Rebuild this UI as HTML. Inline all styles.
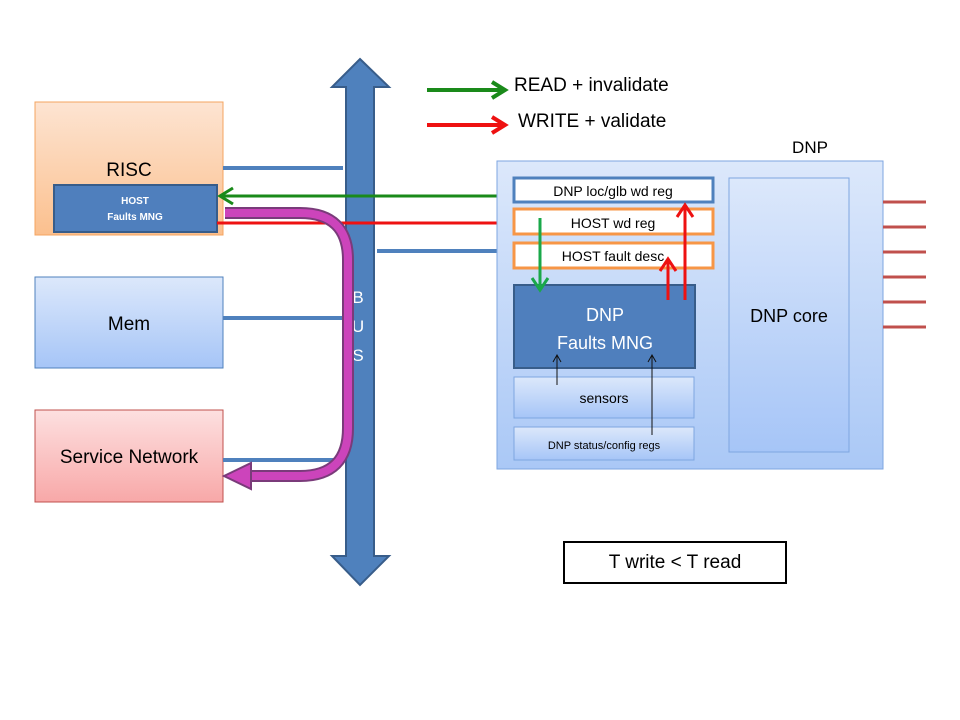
<!DOCTYPE html>
<html><head><meta charset="utf-8"><style>
html,body{margin:0;padding:0;background:#fff;}
svg{display:block;}
text{font-family:"Liberation Sans",sans-serif;}
</style></head><body>
<svg width="960" height="720" viewBox="0 0 960 720" xmlns="http://www.w3.org/2000/svg">
<defs>
<linearGradient id="gOr" x1="0" y1="0" x2="0" y2="1"><stop offset="0" stop-color="#fde4d2"/><stop offset="1" stop-color="#fbc08e"/></linearGradient>
<linearGradient id="gBl" x1="0" y1="0" x2="0" y2="1"><stop offset="0" stop-color="#dce8fb"/><stop offset="1" stop-color="#a6c5f7"/></linearGradient>
<linearGradient id="gPk" x1="0" y1="0" x2="0" y2="1"><stop offset="0" stop-color="#fde0e0"/><stop offset="1" stop-color="#f8a8a8"/></linearGradient>
<linearGradient id="gDnp" x1="0" y1="0" x2="0" y2="1"><stop offset="0" stop-color="#dce8fb"/><stop offset="1" stop-color="#aac8f6"/></linearGradient>
</defs>
<!-- legend -->
<line x1="427" y1="90" x2="503" y2="90" stroke="#1a8a1a" stroke-width="4"/>
<polyline points="492,82 505,90 492,98" fill="none" stroke="#1a8a1a" stroke-width="4"/>
<line x1="427" y1="125" x2="503" y2="125" stroke="#ee1111" stroke-width="4"/>
<polyline points="492,117 505,125 492,133" fill="none" stroke="#ee1111" stroke-width="4"/>
<text x="514" y="91" font-size="19">READ + invalidate</text>
<text x="518" y="127" font-size="19">WRITE + validate</text>

<!-- boxes left -->
<rect x="35" y="102" width="188" height="133" fill="url(#gOr)" stroke="#f4a460"/>
<text x="129" y="176" font-size="19" text-anchor="middle">RISC</text>
<rect x="54" y="185" width="163" height="47" fill="#4f7fbd" stroke="#385d8a" stroke-width="2"/>
<text x="135" y="204" font-size="10" font-weight="bold" fill="#fff" text-anchor="middle">HOST</text>
<text x="135" y="220" font-size="10" font-weight="bold" fill="#fff" text-anchor="middle">Faults MNG</text>
<rect x="35" y="277" width="188" height="91" fill="url(#gBl)" stroke="#4f81bd"/>
<text x="129" y="330" font-size="19" text-anchor="middle">Mem</text>
<rect x="35" y="410" width="188" height="92" fill="url(#gPk)" stroke="#c0504d"/>
<text x="129" y="463" font-size="19" text-anchor="middle">Service Network</text>

<!-- bus links -->
<g stroke="#4f81bd" stroke-width="4">
<line x1="223" y1="168" x2="343" y2="168"/>
<line x1="223" y1="318" x2="343" y2="318"/>
<line x1="223" y1="460" x2="343" y2="460"/>
<line x1="377" y1="251" x2="497" y2="251"/>
</g>

<!-- bus -->
<polygon points="360,59 389,87 374,87 374,556 389,556 360,585 332,556 346,556 346,87 332,87" fill="#4f81bd" stroke="#385d8a" stroke-width="2"/>
<text x="358" y="303" font-size="17" fill="#fff" text-anchor="middle">B</text>
<text x="358" y="332" font-size="17" fill="#fff" text-anchor="middle">U</text>
<text x="358" y="361" font-size="17" fill="#fff" text-anchor="middle">S</text>

<!-- green/red long arrows -->
<line x1="510" y1="196" x2="222" y2="196" stroke="#1a8a1a" stroke-width="3"/>
<polyline points="233,188 220,196 233,204" fill="none" stroke="#1a8a1a" stroke-width="3"/>
<line x1="217" y1="223" x2="508" y2="223" stroke="#ee1111" stroke-width="3"/>
<polyline points="498,215 511,222 498,229" fill="none" stroke="#ee1111" stroke-width="3"/>

<!-- magenta U arrow -->
<path d="M225,213 L300,213 Q348,213 348,260 L348,428 Q348,476 300,476 L245,476" fill="none" stroke="#7a3b7a" stroke-width="12"/>
<path d="M225,213 L300,213 Q348,213 348,260 L348,428 Q348,476 300,476 L245,476" fill="none" stroke="#cc44bb" stroke-width="8"/>
<polygon points="224,476 251,463 251,489" fill="#cc44bb" stroke="#7a3b7a" stroke-width="2"/>

<!-- DNP -->
<text x="810" y="153" font-size="17" text-anchor="middle">DNP</text>
<rect x="497" y="161" width="386" height="308" fill="url(#gDnp)" stroke="#7ea6e0"/>
<rect x="514" y="178" width="199" height="24" fill="#fff" stroke="#4f81bd" stroke-width="3"/>
<text x="613" y="196" font-size="14" text-anchor="middle">DNP loc/glb wd reg</text>
<rect x="514" y="209" width="199" height="25" fill="#fff" stroke="#f79646" stroke-width="3"/>
<text x="613" y="228" font-size="14" text-anchor="middle">HOST wd reg</text>
<rect x="514" y="243" width="199" height="25" fill="#fff" stroke="#f79646" stroke-width="3"/>
<text x="613" y="261" font-size="14" text-anchor="middle">HOST fault desc</text>
<rect x="514" y="285" width="181" height="83" fill="#4f7fbd" stroke="#385d8a" stroke-width="2"/>
<text x="605" y="321" font-size="18" fill="#fff" text-anchor="middle">DNP</text>
<text x="605" y="349" font-size="18" fill="#fff" text-anchor="middle">Faults MNG</text>
<rect x="514" y="377" width="180" height="41" fill="url(#gBl)" stroke="#7ea6e0"/>
<text x="604" y="403" font-size="14" text-anchor="middle">sensors</text>
<rect x="514" y="427" width="180" height="33" fill="url(#gBl)" stroke="#7ea6e0"/>
<text x="604" y="449" font-size="11" text-anchor="middle">DNP status/config regs</text>
<rect x="729" y="178" width="120" height="274" fill="url(#gBl)" stroke="#7ea6e0"/>
<text x="789" y="322" font-size="18" text-anchor="middle">DNP core</text>

<g stroke="#c0504d" stroke-width="3">
<line x1="883" y1="202" x2="926" y2="202"/><line x1="883" y1="227" x2="926" y2="227"/>
<line x1="883" y1="252" x2="926" y2="252"/><line x1="883" y1="277" x2="926" y2="277"/>
<line x1="883" y1="302" x2="926" y2="302"/><line x1="883" y1="327" x2="926" y2="327"/>
</g>

<!-- internal arrows -->
<line x1="540" y1="218" x2="540" y2="290" stroke="#1aa84a" stroke-width="3"/>
<polyline points="532,278 540,290 548,278" fill="none" stroke="#1aa84a" stroke-width="3"/>
<line x1="685" y1="300" x2="685" y2="206" stroke="#ee1111" stroke-width="3"/>
<polyline points="677,217 685,205 693,217" fill="none" stroke="#ee1111" stroke-width="3"/>
<line x1="668" y1="300" x2="668" y2="260" stroke="#ee1111" stroke-width="3"/>
<polyline points="660,271 668,259 676,271" fill="none" stroke="#ee1111" stroke-width="3"/>
<line x1="557" y1="385" x2="557" y2="356" stroke="#111" stroke-width="1"/>
<polyline points="553,362 557,355 561,362" fill="none" stroke="#111" stroke-width="1"/>
<line x1="652" y1="435" x2="652" y2="356" stroke="#111" stroke-width="1"/>
<polyline points="648,362 652,355 656,362" fill="none" stroke="#111" stroke-width="1"/>

<rect x="564" y="542" width="222" height="41" fill="#fff" stroke="#000" stroke-width="2"/>
<text x="675" y="568" font-size="19" text-anchor="middle">T write &lt; T read</text>
</svg>
</body></html>
